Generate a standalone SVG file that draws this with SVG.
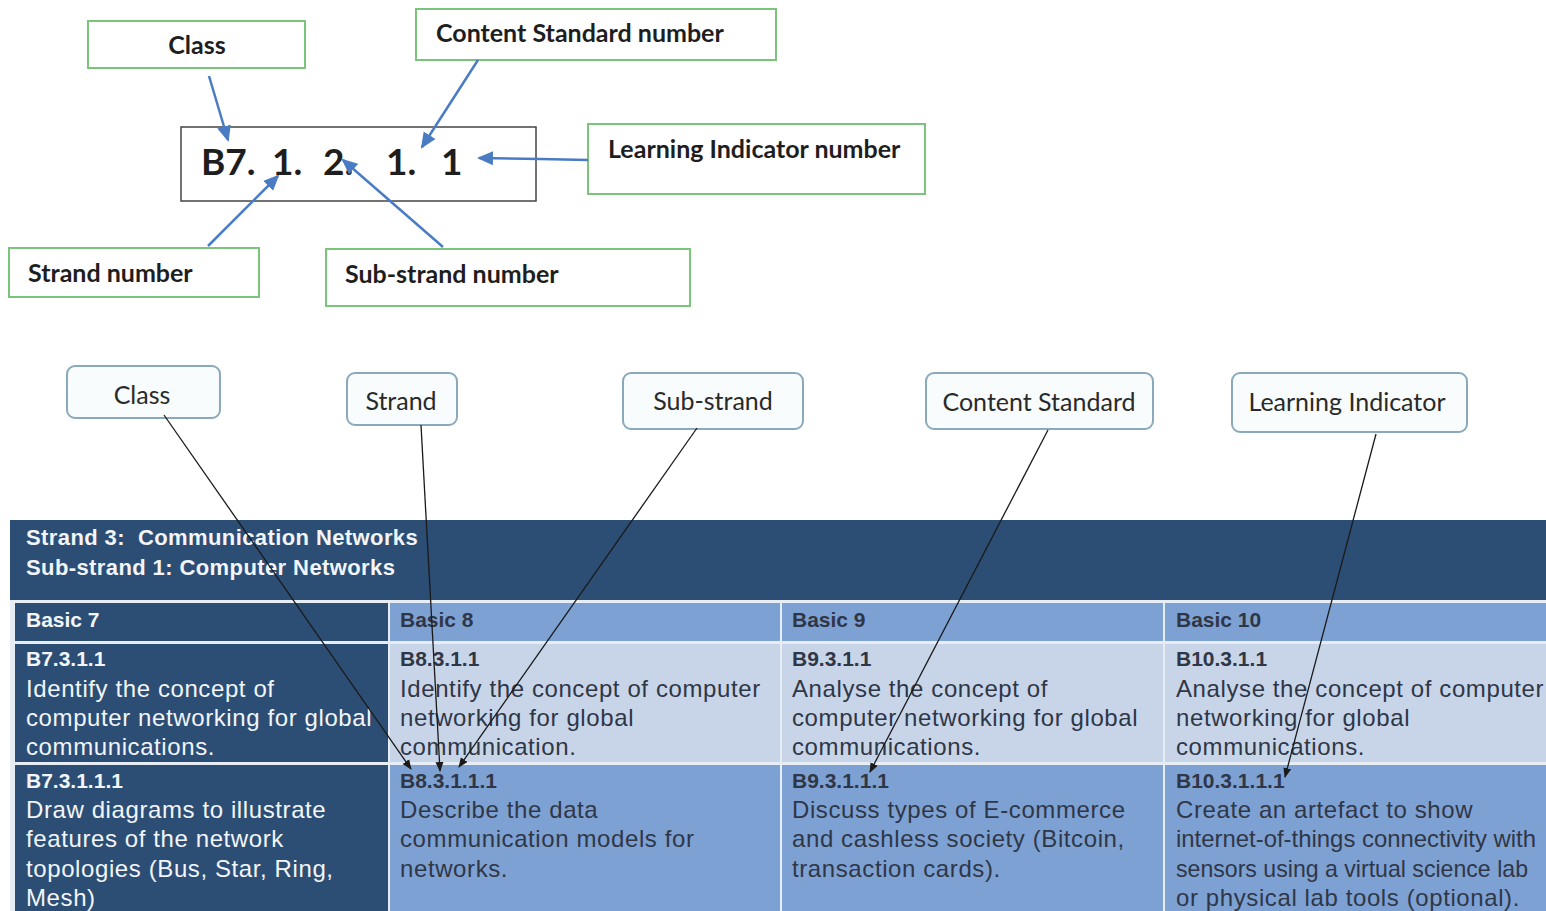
<svg xmlns="http://www.w3.org/2000/svg" width="1546" height="911" viewBox="0 0 1546 911">
<defs>
<marker id="ba" markerWidth="16" markerHeight="16" refX="14" refY="8" orient="auto" markerUnits="userSpaceOnUse"><path d="M0,1 L16,8 L0,15 z" fill="#4a7cc4"/></marker>
<marker id="ka" markerWidth="10" markerHeight="10" refX="9" refY="5" orient="auto" markerUnits="userSpaceOnUse"><path d="M0,1 L10,5 L0,9 z" fill="#1a1a1a"/></marker>
</defs>
<style>
.gbox{fill:#fff;stroke:#7cc47c;stroke-width:2}
.lbl{font-family:Lato,"Liberation Sans",sans-serif;font-weight:bold;font-size:25px;fill:#1e1e1e}
.code{font-family:Lato,"Liberation Sans",sans-serif;font-weight:bold;font-size:37px;fill:#1e1e1e}
.cbox{fill:#f8fcfd;stroke:#8aa9bb;stroke-width:2}
.clbl{font-family:Lato,"Liberation Sans",sans-serif;font-size:25px;fill:#2a2a2a;text-anchor:middle}
.blue{stroke:#4a7cc4;stroke-width:2.5;fill:none}
.blk{stroke:#1a1a1a;stroke-width:1.3;fill:none}
.t{font-family:"Liberation Sans",Arial,sans-serif;font-size:24px;letter-spacing:0.6px}
.n{letter-spacing:0}
.b{font-weight:bold;font-size:21px;letter-spacing:0}
.h{font-weight:bold;font-size:22px;letter-spacing:0.4px}
.w{fill:#f2f5fa}
.d{fill:#2f3747}
.dk{fill:#2c4e74}
.md{fill:#7ea1d3}
.lt{fill:#c8d5e9}
</style>
<rect width="1546" height="911" fill="#fff"/>

<g id="top-class"><rect class="gbox" x="88" y="21" width="217" height="47"/><text class="lbl" x="197" y="54" text-anchor="middle">Class</text></g>
<g id="top-content-standard"><rect class="gbox" x="416" y="9" width="360" height="51"/><text class="lbl" x="436" y="42">Content Standard number</text></g>
<g id="top-code"><rect x="181" y="127" width="355" height="74" fill="#fff" stroke="#444" stroke-width="1.5"/><text class="code" y="175"><tspan x="201">B7.</tspan><tspan x="272">1.</tspan><tspan x="323">2.</tspan><tspan x="386">1.</tspan><tspan x="441">1</tspan></text></g>
<g id="top-learning-indicator"><rect class="gbox" x="588" y="124" width="337" height="70"/><text class="lbl" x="608" y="158">Learning Indicator number</text></g>
<g id="top-strand"><rect class="gbox" x="9" y="248" width="250" height="49"/><text class="lbl" x="28" y="282">Strand number</text></g>
<g id="top-substrand"><rect class="gbox" x="326" y="249" width="364" height="57"/><text class="lbl" x="345" y="283">Sub-strand number</text></g>

<g id="callout-class"><rect class="cbox" x="67" y="366" width="153" height="52" rx="8"/><text class="clbl" x="142" y="404">Class</text></g>
<g id="callout-strand"><rect class="cbox" x="347" y="373" width="110" height="52" rx="8"/><text class="clbl" x="401" y="410">Strand</text></g>
<g id="callout-substrand"><rect class="cbox" x="623" y="373" width="180" height="56" rx="8"/><text class="clbl" x="713" y="410">Sub-strand</text></g>
<g id="callout-content-standard"><rect class="cbox" x="926" y="373" width="227" height="56" rx="8"/><text class="clbl" x="1039" y="411">Content Standard</text></g>
<g id="callout-learning-indicator"><rect class="cbox" x="1232" y="373" width="235" height="59" rx="8"/><text class="clbl" x="1347" y="411">Learning Indicator</text></g>

<g id="table">
<rect x="10" y="520" width="1536" height="391" fill="#e6edf5"/>
<rect class="dk" x="10" y="520" width="1536" height="80"/>
<text class="t h w" x="26" y="545">Strand 3:&#160; Communication Networks</text>
<text class="t h w" x="26" y="575">Sub-strand 1: Computer Networks</text>
<rect class="dk" x="15" y="603" width="373" height="38"/>
<rect class="md" x="390" y="603" width="390" height="38"/>
<rect class="md" x="782" y="603" width="381" height="38"/>
<rect class="md" x="1165" y="603" width="381" height="38"/>
<rect class="dk" x="15" y="644" width="373" height="118"/>
<rect class="lt" x="390" y="644" width="390" height="118"/>
<rect class="lt" x="782" y="644" width="381" height="118"/>
<rect class="lt" x="1165" y="644" width="381" height="118"/>
<rect class="dk" x="15" y="765" width="373" height="146"/>
<rect class="md" x="390" y="765" width="390" height="146"/>
<rect class="md" x="782" y="765" width="381" height="146"/>
<rect class="md" x="1165" y="765" width="381" height="146"/>
<text class="t b w" x="26" y="627">Basic 7</text>
<text class="t b d" x="400" y="627">Basic 8</text>
<text class="t b d" x="792" y="627">Basic 9</text>
<text class="t b d" x="1176" y="627">Basic 10</text>
<text class="t b w" x="26" y="666">B7.3.1.1</text>
<text class="t w" x="26"><tspan x="26" y="697">Identify the concept of</tspan><tspan x="26" y="726">computer networking for global</tspan><tspan x="26" y="755">communications.</tspan></text>
<text class="t b d" x="400" y="666">B8.3.1.1</text>
<text class="t d"><tspan x="400" y="697">Identify the concept of computer</tspan><tspan x="400" y="726">networking for global</tspan><tspan x="400" y="755">communication.</tspan></text>
<text class="t b d" x="792" y="666">B9.3.1.1</text>
<text class="t d"><tspan x="792" y="697">Analyse the concept of</tspan><tspan x="792" y="726">computer networking for global</tspan><tspan x="792" y="755">communications.</tspan></text>
<text class="t b d" x="1176" y="666">B10.3.1.1</text>
<text class="t d"><tspan x="1176" y="697">Analyse the concept of computer</tspan><tspan x="1176" y="726">networking for global</tspan><tspan x="1176" y="755">communications.</tspan></text>
<text class="t b w" x="26" y="788">B7.3.1.1.1</text>
<text class="t w"><tspan x="26" y="818">Draw diagrams to illustrate</tspan><tspan x="26" y="847">features of the network</tspan><tspan x="26" y="877">topologies (Bus, Star, Ring,</tspan><tspan x="26" y="906">Mesh)</tspan></text>
<text class="t b d" x="400" y="788">B8.3.1.1.1</text>
<text class="t d"><tspan x="400" y="818">Describe the data</tspan><tspan x="400" y="847">communication models for</tspan><tspan x="400" y="877">networks.</tspan></text>
<text class="t b d" x="792" y="788">B9.3.1.1.1</text>
<text class="t d"><tspan x="792" y="818">Discuss types of E-commerce</tspan><tspan x="792" y="847">and cashless society (Bitcoin,</tspan><tspan x="792" y="877">transaction cards).</tspan></text>
<text class="t b d" x="1176" y="788">B10.3.1.1.1</text>
<text class="t d" x="1176" y="818">Create an artefact to show</text>
<text class="t n d" x="1176" y="847" textLength="360" lengthAdjust="spacingAndGlyphs">internet-of-things connectivity with</text>
<text class="t n d" x="1176" y="877" textLength="352" lengthAdjust="spacingAndGlyphs">sensors using a virtual science lab</text>
<text class="t d" x="1176" y="906">or physical lab tools (optional).</text>
</g>

<g id="connectors">
<line class="blue" x1="209" y1="76" x2="228" y2="140" marker-end="url(#ba)"/>
<line class="blue" x1="478" y1="60" x2="422" y2="147" marker-end="url(#ba)"/>
<path class="blue" d="M588,160 L540,159 L479,158" marker-end="url(#ba)"/>
<line class="blue" x1="208" y1="246" x2="278" y2="176" marker-end="url(#ba)"/>
<line class="blue" x1="443" y1="247" x2="343" y2="160" marker-end="url(#ba)"/>
<line class="blk" x1="164" y1="415" x2="411" y2="769" marker-end="url(#ka)"/>
<line class="blk" x1="421" y1="425" x2="440" y2="771" marker-end="url(#ka)"/>
<line class="blk" x1="697" y1="428" x2="459" y2="767" marker-end="url(#ka)"/>
<line class="blk" x1="1048" y1="430" x2="870" y2="772" marker-end="url(#ka)"/>
<line class="blk" x1="1376" y1="434" x2="1285" y2="777" marker-end="url(#ka)"/>
</g>
</svg>
